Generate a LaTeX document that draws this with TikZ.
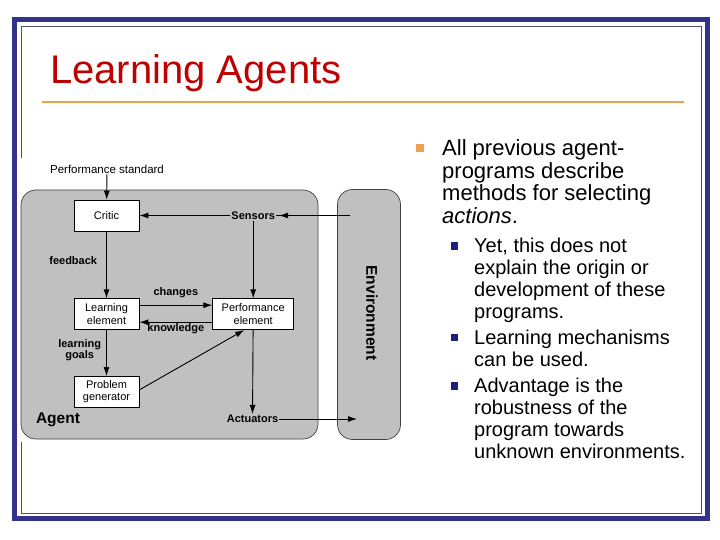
\documentclass[tikz,border=0pt]{standalone}
\usepackage{fontspec}
\setmainfont{Liberation Sans}
\usetikzlibrary{arrows.meta,positioning}
\definecolor{frameblue}{RGB}{51,51,140}
\definecolor{thinline}{RGB}{80,80,110}
\definecolor{titlered}{RGB}{190,0,0}
\definecolor{rulecol}{RGB}{236,160,80}
\definecolor{agentgray}{RGB}{192,192,192}
\definecolor{subblue}{RGB}{30,30,130}

\begin{document}
\begin{tikzpicture}[x=1pt,y=-1pt,
      blk/.style={draw=black,fill=white,line width=0.7pt,minimum width=65pt,minimum height=31pt,inner sep=1pt,align=center,font=\fontsize{11}{12.5}\selectfont},
      lbl/.style={font=\fontsize{11}{11.5}\selectfont\bfseries,inner sep=1pt,align=center},
      region/.style={draw=black!75,fill=agentgray,line width=0.7pt,rounded corners=15pt},
      arr/.style={-{Latex[length=9pt,width=6pt]},line width=0.9pt},
      bulsq/.style={inner sep=0pt,minimum size=#1},
      item/.style={anchor=base west,inner sep=0pt,align=left}]
    \useasboundingbox (0,0) rectangle (720,540);
    \fill[white] (0,0) rectangle (720,540);
    % slide frame
    \draw[frameblue,line width=5pt] (14.5,19.5) rectangle (707,518.5);
    \draw[thinline,line width=0.8pt] (21,26) rectangle (701,513);
    \node[item,font=\fontsize{40}{40}\selectfont,text=titlered] (title) at (50,84) {Learning Agents};
    \draw[rulecol,line width=2pt] (42,102.5) -- (684,102.5);
    % diagram
    \fill[white] (17,158) rectangle (330,442);
    \draw[region] (21,190) rectangle (318,439);
    \node[region,minimum width=63pt,minimum height=250pt] (env) at (369,314.5) {};
    \node[rotate=-90,font=\fontsize{15.5}{16}\selectfont\bfseries] (envtxt) at (372,313) {Environment};
    \node[font=\fontsize{11.5}{12}\selectfont,inner sep=1pt] (pstd) at (107,169) {Performance standard};
    \node[blk] (critic) at (106.5,215.5) {Critic};
    \node[blk,below=67pt of critic] (learn) {Learning\\element};
    \node[blk,below=46pt of learn] (prob) {Problem\\generator};
    \node[blk,minimum width=81pt,right=73pt of learn] (perf) {Performance\\element};
    \node[lbl] (sens) at (perf |- critic) {Sensors};
    \node[lbl] (act) at (252.5,419) {Actuators};
    \node[font=\fontsize{15.5}{16}\selectfont\bfseries,inner sep=0pt] (agent) at (58,420) {Agent};
    \coordinate (envin) at (350,215.5);
    \coordinate (envout) at (357,419);
    \draw[arr] (pstd) -- (critic);
    \draw[line width=0.9pt] (envin) -- (sens.east);
    \draw[arr] (envin) -- ([xshift=3pt]sens.east);
    \draw[arr] (sens) -- (critic);
    \draw[arr] (sens) -- (perf);
    \draw[arr] (perf) -- (act);
    \draw[arr] (act) -- (envout);
    \draw[arr] (critic) -- (learn) node[lbl,midway,left=8pt,yshift=4pt] {feedback};
    \draw[arr] ([yshift=9pt]learn.east) -- ([yshift=9pt]learn.east -| perf.west) node[lbl,midway,above=6pt] {changes};
    \draw[arr] ([yshift=-8pt]perf.west) -- ([yshift=-8pt]perf.west -| learn.east) node[lbl,midway,below=0pt] {knowledge};
    \draw[arr] (learn) -- (prob) node[lbl,midway,left=4pt,yshift=3pt,font=\fontsize{11}{11}\selectfont\bfseries] {learning\\goals};
    \draw[arr] ([yshift=2pt]prob.east) -- ([xshift=-9pt]perf.south);
    % bullet text (anchored at the baseline of the last line)
    \node[bulsq=8pt,fill=rulecol] (b0) at (420,148) {};
    \node[item,font=\fontsize{22}{23}\selectfont] (t0) at (442,224) {All previous agent-\\programs describe\\methods for selecting\\\textit{actions}.};
    \node[bulsq=7.5pt,fill=subblue] (b1) at (454.5,246) {};
    \node[item,font=\fontsize{20}{21.7}\selectfont] (t1) at (474,318) {Yet, this does not\\explain the origin or\\development of these\\programs.};
    \node[bulsq=7.5pt,fill=subblue] (b2) at (454.5,337.5) {};
    \node[item,font=\fontsize{20}{21.7}\selectfont] (t2) at (474,366) {Learning mechanisms\\can be used.};
    \node[bulsq=7.5pt,fill=subblue] (b3) at (454.5,386) {};
    \node[item,font=\fontsize{20}{21.7}\selectfont] (t3) at (474,458) {Advantage is the\\robustness of the\\program towards\\unknown environments.};
  \end{tikzpicture}
\end{document}
